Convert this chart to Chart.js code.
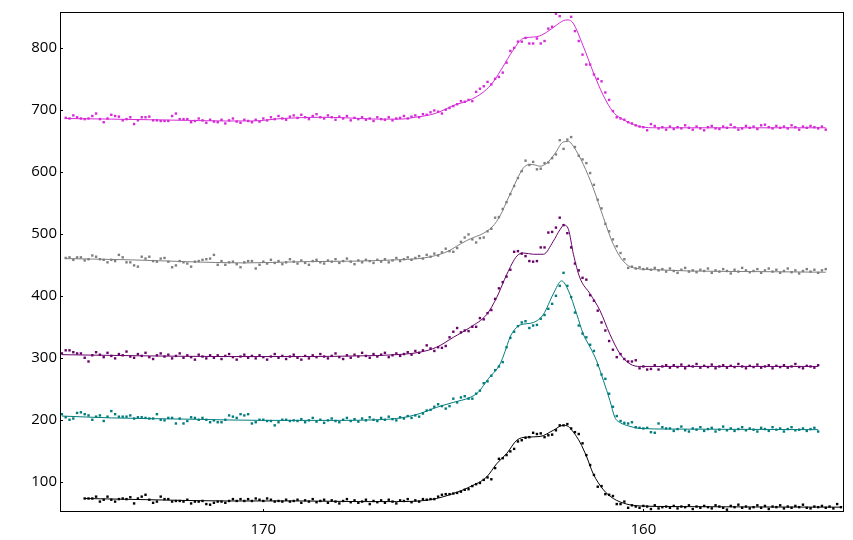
<!DOCTYPE html>
<html><head><meta charset="utf-8">
<script src="https://cdn.jsdelivr.net/npm/chart.js@4"></script>
<style>html,body{margin:0;padding:0;background:#fff}</style>
</head><body>
<canvas id="c" width="853" height="540"></canvas>
<script>
// ---- axis / tick data ----
const energyStep = 0.1;
const xTicks = [170, 160];
const yTicks = [100, 200, 300, 400, 500, 600, 700, 800];

// ---- magenta series ----
const magentaStart = 175.2;
const magentaPts = [
687,686,691,688,686,685,686,690,694,685,
680,686,692,690,689,683,685,688,677,683,
688,688,689,683,683,682,682,682,690,694,
685,685,685,680,682,686,683,679,684,681,
680,684,678,683,686,681,679,684,682,680,
684,681,686,683,688,685,690,686,684,689,
691,687,692,688,685,690,693,688,686,691,
688,684,689,686,690,683,687,685,688,684,
686,682,688,685,684,688,683,686,687,690,
686,689,691,688,693,692,696,699,697,694,
700,703,706,709,714,713,716,714,729,734,
738,745,741,750,753,760,776,795,800,810,
810,816,807,807,815,807,811,831,834,855,
851,859,859,850,827,811,789,773,773,757,
750,746,728,716,698,688,686,684,680,678,
675,673,672,667,677,674,670,672,668,673,
669,672,670,675,671,668,673,670,667,672,
674,670,669,673,671,676,672,668,670,674,
671,673,669,675,676,672,670,674,671,673,
670,675,672,668,673,671,674,672,670,673,
668];
const magentaFitX = [175.2,174,173,172,171,170.3,169.5,168.5,167.8,167,166.4,166,165.6,165.35,165.0,164.6,164.2,163.95,163.7,163.43,163.17,162.8,162.55,162.3,162.1,161.98,161.85,161.59,161.32,161.06,160.8,160.43,160.09,159.65,158.77,157,155.2];
const magentaFitY = [686,685,684,683,682,682,686,688,687,685,685,688,692,697,707,715,729,745,769,796,815,818,825,836,844,845,840,804,761,724,697,681,673,671,671,671,671];

// ---- gray series ----
const grayStart = 175.2;
const grayPts = [
461,462,458,462,462,457,459,465,463,459,
458,454,458,456,466,462,454,454,449,447,
463,460,463,456,455,460,461,455,446,449,
456,454,452,447,455,456,458,459,460,466,
450,456,450,454,455,451,446,454,456,456,
444,450,
455,452,458,453,456,451,454,459,455,452,
457,453,450,456,458,454,452,457,455,459,
453,456,460,455,451,457,454,458,456,453,
458,455,459,454,457,461,456,459,462,458,
461,464,460,466,463,468,465,470,
476,472,471,477,487,494,499,491,486,493,
494,504,508,526,527,540,551,564,577,590,
601,618,611,616,604,605,614,615,622,628,
651,637,652,656,640,626,620,614,598,579,
555,541,516,504,491,480,469,459,445,447,
444,446,443,444,442,445,
441,443,439,444,440,437,442,445,439,441,
438,442,440,444,437,441,439,443,440,436,
442,439,445,441,438,440,443,437,441,444,
439,442,437,440,444,438,441,436,440,443,
439,442,437,441,443];
const grayFitX = [175.2,173.5,172,170.5,169,167.5,166.5,165.9,165.6,165.35,165.1,164.91,164.65,164.47,164.3,164.12,163.98,163.86,163.72,163.59,163.46,163.33,163.16,162.98,162.85,162.72,162.54,162.32,162.11,161.97,161.84,161.58,161.32,161.05,160.79,160.53,160.26,159.65,158.77,157,155.2];
const grayFitY = [460,458,455,453,455,456,458,460,463,467,473,480,489,494,498,504,511,520,535,553,570,587,606,612,611,609,614,630,648,649,641,612,574,526,483,456,445,442,440,439,438];

// ---- purple series ----
const purpleStart = 175.3;
const purplePts = [
307,312,312,309,307,307,300,294,304,309,
305,301,308,303,299,306,304,310,302,300,
306,303,308,301,298,304,307,302,305,299,
303,307,300,304,301,297,305,302,299,304,
300,304,298,303,306,301,297,302,305,300,
303,299,304,301,297,302,306,300,303,298,
302,305,300,297,303,299,304,301,306,302,
299,303,307,301,298,304,300,305,302,308,
303,300,306,302,305,308,301,304,307,303,
306,309,305,311,308,312,
320,315,311,317,316,319,333,342,348,341,
344,343,350,350,364,362,372,377,395,412,
422,431,442,471,472,468,464,456,455,456,
478,478,502,503,510,526,514,501,478,452,
441,429,426,401,392,376,357,344,327,313,
301,306,298,294,294,296,283,286,281,282,
288,281,286,288,
284,288,285,289,283,287,286,290,284,287,
285,289,283,286,288,284,287,285,290,286,
283,287,285,289,284,286,288,283,287,285,
288,284,286,290,285,283,287,286,284,288];
const purpleFitX = [175.3,173,171,169,167.5,166.5,165.88,165.44,165.0,164.56,164.12,163.86,163.59,163.33,163.16,162.89,162.63,162.37,162.19,162.09,161.97,161.84,161.67,161.4,161.14,160.88,160.61,160.35,160.09,159.3,155.4];
const purpleFitY = [305,303,302,302,303,305,309,317,333,349,370,397,435,464,469,467,467,488,507,514,507,467,429,403,376,338,306,290,286,286,286];

// ---- teal series ----
const tealStart = 175.3;
const tealPts = [
209,204,200,202,211,212,209,207,200,205,
207,198,205,214,209,205,205,205,207,202,
204,204,203,202,202,209,200,199,203,203,
194,202,194,198,204,203,200,203,200,196,
199,196,196,200,207,205,203,209,207,209,
194,196,200,200,198,198,191,196,200,200,
198,199,198,
201,196,199,203,197,200,195,199,202,198,
196,200,203,198,201,197,202,199,204,200,
198,203,200,205,201,199,204,202,206,203,
207,205,
210,215,216,221,225,222,218,222,234,228,
236,238,234,234,242,247,259,262,271,280,
286,293,317,332,342,351,357,359,348,352,
353,363,369,379,387,400,416,437,416,398,
373,352,339,333,321,311,288,273,266,242,
221,206,198,195,194,196,188,187,186,187,
180,179,194,188,186,
186,182,185,189,183,181,186,184,188,182,
185,187,181,184,189,183,186,182,185,188,
183,186,184,181,187,185,182,188,184,186,
181,185,188,183,184,186,182,185,187,181];
const tealFitX = [175.3,174,172,170,168,167,166.5,166.2,165.88,165.44,165.0,164.56,164.35,164.21,164.08,163.77,163.64,163.51,163.38,163.24,162.89,162.63,162.37,162.15,161.97,161.75,161.58,161.4,161.23,161.05,160.88,160.75,160.6,160.44,160.09,159.3,155.4];
const tealFitY = [206,203,201,199,199,200,202,205,210,220,228,236,244,255,266,290,310,333,346,353,357,370,403,424,408,370,338,317,295,263,231,204,195,191,186,185,184];

// ---- black series ----
const blackStart = 174.7;
const blackPts = [
73,73,73,76,68,71,76,71,68,72,
73,72,75,65,73,76,79,71,66,68,
76,72,72,68,69,69,68,71,65,68,
68,69,64,63,66,68,68,66,69,72,
69,72,69,72,69,73,71,69,73,71,
68,69,68,71,68,69,71,
66,70,68,72,67,69,71,66,70,68,
65,69,72,67,70,66,68,71,64,69,
67,70,66,71,68,65,70,69,72,67,
70,68,
72,71,72,72,76,79,80,80,81,82,
84,87,88,93,96,98,103,107,104,122,
137,138,143,149,153,165,167,171,172,179,
177,178,172,175,176,183,191,191,193,186,
180,177,162,143,127,111,92,93,80,79,
77,64,64,68,58,62,60,58,61,60,
56,62,57,59,60,
58,61,57,60,59,62,56,60,58,61,
59,57,62,60,58,55,61,59,63,58,
60,57,59,62,58,61,56,60,59,62,
57,60,58,61,59,63,58,57,60,59,
61,58,60,57,64,59];
const blackFitX = [174.7,173,171,169,167.5,166.5,165.88,165.44,165.0,164.56,164.12,163.86,163.59,163.33,163.07,162.72,162.37,162.11,161.97,161.84,161.67,161.49,161.32,161.05,160.79,160.44,160.09,159.3,154.8];
const blackFitY = [73,71,69,69,68,68,69,73,81,92,108,129,146,167,172,173,183,191,189,180,164,140,113,87,73,64,61,60,59];

// ---- build ----
function onGrid(start, vals) {
  return vals.map((v, i) => ({ x: +(start - i * energyStep).toFixed(2), y: v }));
}
function pairs(xs, ys) { return xs.map((x, i) => ({ x: x, y: ys[i] })); }

const series = [
  { color: '#d62ad6', start: magentaStart, pts: magentaPts, fx: magentaFitX, fy: magentaFitY },
  { color: '#7f7f7f', start: grayStart, pts: grayPts, fx: grayFitX, fy: grayFitY },
  { color: '#680468', start: purpleStart, pts: purplePts, fx: purpleFitX, fy: purpleFitY },
  { color: '#007c7c', start: tealStart, pts: tealPts, fx: tealFitX, fy: tealFitY },
  { color: '#000000', start: blackStart, pts: blackPts, fx: blackFitX, fy: blackFitY }
];

const datasets = [];
series.forEach(s => {
  datasets.push({
    data: onGrid(s.start, s.pts), showLine: false,
    pointStyle: 'rect', pointRadius: 1.7, pointHoverRadius: 1.7,
    pointBackgroundColor: s.color, pointBorderWidth: 0, borderColor: s.color
  });
  datasets.push({
    data: pairs(s.fx, s.fy), showLine: true, borderColor: s.color, borderWidth: 1,
    pointRadius: 0, cubicInterpolationMode: 'monotone', fill: false
  });
});

const frame = {
  id: 'frame',
  afterDraw(chart) {
    const { ctx, chartArea: a, scales: { x, y } } = chart;
    ctx.save();
    ctx.strokeStyle = '#000';
    ctx.lineWidth = 1;
    ctx.strokeRect(a.left + 0.5, a.top + 0.5, a.right - a.left - 1, a.bottom - a.top - 1);
    ctx.beginPath();
    xTicks.forEach(v => {
      const px = Math.round(x.getPixelForValue(v)) + 0.5;
      ctx.moveTo(px, a.bottom); ctx.lineTo(px, a.bottom - 3);
    });
    yTicks.forEach(v => {
      const py = Math.round(y.getPixelForValue(v)) + 0.5;
      ctx.moveTo(a.left, py); ctx.lineTo(a.left + 3, py);
    });
    ctx.stroke();
    ctx.restore();
  }
};

const tickFont = { family: '"Open Sans", "Noto Sans", sans-serif', size: 15 };

new Chart(document.getElementById('c'), {
  type: 'scatter',
  data: { datasets },
  options: {
    responsive: false,
    animation: false,
    devicePixelRatio: 1,
    layout: { padding: { left: 0, right: 9, top: 10, bottom: 0 } },
    plugins: { legend: { display: false }, tooltip: { enabled: false } },
    scales: {
      x: {
        type: 'linear', reverse: true, min: 154.72, max: 175.35,
        grid: { display: false, drawTicks: false }, border: { display: false },
        ticks: { padding: 9, font: tickFont, color: '#000' },
        afterBuildTicks: s => { s.ticks = xTicks.map(v => ({ value: v })); },
        afterFit: s => { s.height = 28; }
      },
      y: {
        type: 'linear', min: 51.2, max: 857.8,
        grid: { display: false, drawTicks: false }, border: { display: false },
        ticks: { padding: 3, font: tickFont, color: '#000' },
        afterBuildTicks: s => { s.ticks = yTicks.map(v => ({ value: v })); },
        afterFit: s => { s.width = 60; }
      }
    }
  },
  plugins: [frame]
});
</script>
</body></html>
